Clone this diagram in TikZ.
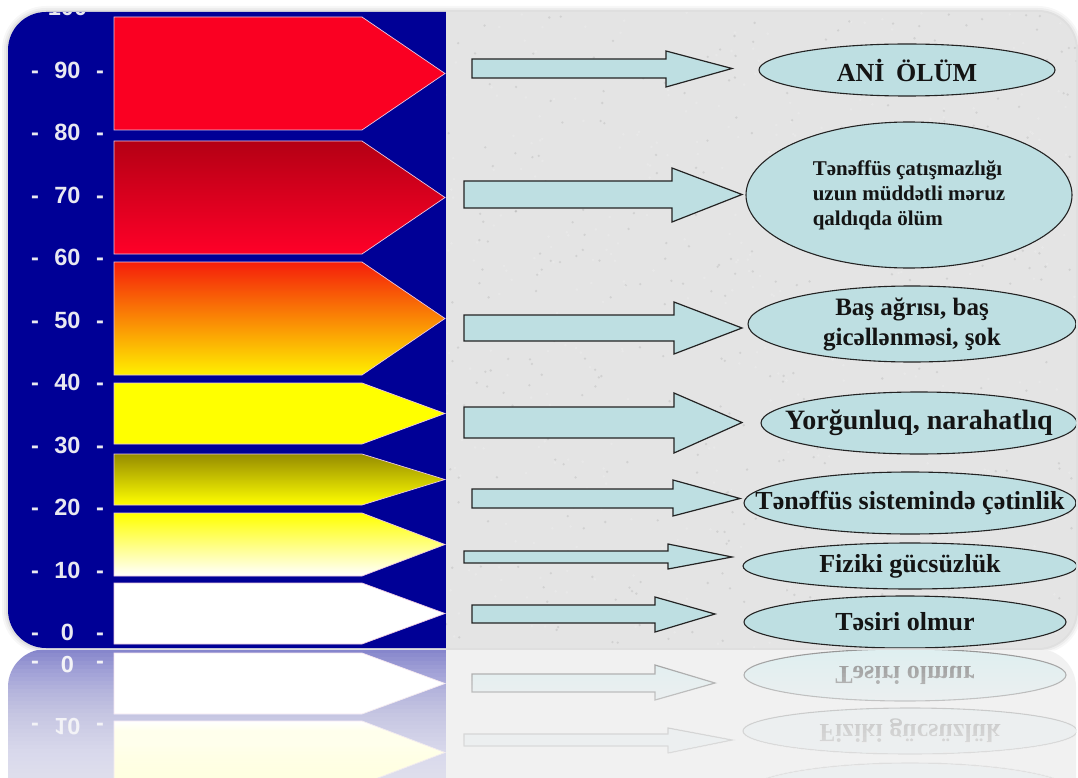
\documentclass[tikz,border=0pt]{standalone}
\usepackage{fontspec}
\setmainfont{Liberation Serif}
\newfontfamily\scalefamily{Liberation Sans}
\usetikzlibrary{shapes.geometric}
\definecolor{panelblue}{RGB}{0,0,150}
\definecolor{panelgray}{RGB}{228,228,228}
\definecolor{boxfill}{RGB}{190,223,226}
\definecolor{boxline}{RGB}{35,35,35}
\definecolor{labelwhite}{RGB}{232,232,240}
\definecolor{redA}{RGB}{250,0,34}
\definecolor{redTop}{RGB}{180,0,20}
\definecolor{redBot}{RGB}{255,0,40}
\definecolor{orTop}{RGB}{245,30,10}
\definecolor{orMid}{RGB}{252,150,15}
\definecolor{orBot}{RGB}{255,240,0}
\definecolor{yel}{RGB}{255,255,0}
\definecolor{olive}{RGB}{150,140,0}
\definecolor{chevline}{RGB}{235,200,225}
\definecolor{textdark}{RGB}{20,20,20}
\newcommand\scalelab[1]{\makebox[20pt]{-}\makebox[45pt]{#1}\makebox[20pt]{-}}
\tikzset{
  chev/.style={draw=chevline, line width=0.7pt},
  barrow/.style={fill=boxfill, draw=boxline, line width=1.2pt, line join=miter},
  ell/.style={ellipse, fill=boxfill, draw=boxline, line width=1.1pt, inner sep=0pt},
  etext/.style={text=textdark, font=\bfseries\fontsize{26}{28}\selectfont, inner sep=0pt},
  scl/.style={text=labelwhite, font=\scalefamily\bfseries\fontsize{23.5}{24}\selectfont, inner sep=0pt},
}
\begin{document}
\begin{tikzpicture}[x=1pt,y=-1pt]
\useasboundingbox (0,0) rectangle (1078,778);
\fill[white] (0,0) rectangle (1078,778);
% soft shadow round the frame
\foreach \w/\o in {12/0.03,8/0.04,4/0.06}
  \draw[line width=\w pt, black, opacity=\o, rounded corners=38pt] (8,12) rectangle (1076,648);
% ---------------- main frame ----------------
\begin{scope}
\clip[rounded corners=38pt] (8,12) rectangle (1076,648);
\fill[panelgray] (446,0) rectangle (1078,660);
\pgfmathsetseed{7}
\foreach \k in {1,...,900}{
  \pgfmathsetmacro\px{446+632*rnd}
  \pgfmathsetmacro\py{12+636*rnd}
  \pgfmathsetmacro\pc{rnd>0.5 ? 100 : 0}
  \fill[white!\pc!gray, opacity=0.18] (\px,\py) circle (1.3pt);
}
\fill[panelblue] (0,0) rectangle (446,660);
% chevrons
\path[chev, fill=redA] (114,17) -- (362,17) -- (445,73.5) -- (362,130) -- (114,130) -- cycle;
\path[chev, top color=redTop, bottom color=redBot] (114,141) -- (362,141) -- (445,197.5) -- (362,254) -- (114,254) -- cycle;
\path[chev, top color=orTop, middle color=orMid, bottom color=orBot] (114,262) -- (362,262) -- (445,318.5) -- (362,375) -- (114,375) -- cycle;
\path[chev, fill=yel] (114,383) -- (362,383) -- (445,413.5) -- (362,444) -- (114,444) -- cycle;
\path[chev, top color=olive, middle color=yel, bottom color=yel] (114,454) -- (362,454) -- (445,479.5) -- (362,505) -- (114,505) -- cycle;
\path[chev, top color=yel, bottom color=white] (114,513) -- (362,513) -- (445,544.5) -- (362,576) -- (114,576) -- cycle;
\path[chev, fill=white] (114,583) -- (362,583) -- (445,613.5) -- (362,644) -- (114,644) -- cycle;
% scale labels
\foreach \v/\yy in {100/7.5,90/70,80/132.5,70/195,60/257.5,50/320,40/382.5,30/445,20/507.5,10/570,0/632.5}
  \node[scl] (s\v) at (67.5,\yy) {\scalelab{\v}};
% block arrows
\path[barrow] (472,59) -- (666,59) -- (666,51) -- (732,68.5) -- (666,87) -- (666,78) -- (472,78) -- cycle;
\path[barrow] (464,181) -- (672,181) -- (672,168) -- (742,194.5) -- (672,222) -- (672,208) -- (464,208) -- cycle;
\path[barrow] (464,315) -- (674,315) -- (674,302) -- (742,328) -- (674,354) -- (674,341) -- (464,341) -- cycle;
\path[barrow] (464,407) -- (674,407) -- (674,393) -- (742,422.5) -- (674,453) -- (674,438) -- (464,438) -- cycle;
\path[barrow] (472,489) -- (673,489) -- (673,480) -- (740,498.5) -- (673,516) -- (673,508) -- (472,508) -- cycle;
\path[barrow] (464,551) -- (668,551) -- (668,544) -- (732,557) -- (668,569) -- (668,563) -- (464,563) -- cycle;
\path[barrow] (472,605) -- (655,605) -- (655,597) -- (715,614) -- (655,632) -- (655,623) -- (472,623) -- cycle;
% ellipses
\node[ell, minimum width=296pt, minimum height=52pt] (e1) at (907,70) {};
\node[etext] (t1) at (e1) {ANİ\hspace{0.45em}ÖLÜM};
\node[ell, minimum width=326pt, minimum height=146pt] (e2) at (909,195) {};
\node[etext, align=left, font=\bfseries\fontsize{21}{25}\selectfont] (t2) at (e2) {Tənəffüs çatışmazlığı\\uzun müddətli məruz\\qaldıqda ölüm};
\node[ell, minimum width=328pt, minimum height=76pt] (e3) at (912,324) {};
\node[etext, align=center, font=\bfseries\fontsize{25}{30}\selectfont] (t3) at (e3) {Baş ağrısı, baş\\gicəllənməsi, şok};
\node[ell, minimum width=316pt, minimum height=62pt] (e4) at (919,423) {};
\node[etext, font=\bfseries\fontsize{28}{30}\selectfont] (t4) at (e4) {Yorğunluq, narahatlıq};
\node[ell, minimum width=332pt, minimum height=62pt] (e5) at (910,503) {};
\node[etext] (t5) at (e5) {Tənəffüs sistemində çətinlik};
\node[ell, minimum width=334pt, minimum height=46pt] (e6) at (910,566) {};
\node[etext] (t6) at (e6) {Fiziki gücsüzlük};
\node[ell, minimum width=322pt, minimum height=52pt] (e7) at (905,622) {};
\node[etext] (t7) at (e7) {Təsiri olmur};
\end{scope}
% ---------------- reflection ----------------
\begin{scope}
\clip (0,650) rectangle (1078,778);
\begin{scope}[yshift=-1297pt, yscale=-1, transform shape]
\clip[rounded corners=38pt] (8,12) rectangle (1076,648);
\fill[panelgray] (446,450) rectangle (1078,660);
\fill[panelblue] (0,450) rectangle (446,660);
\path[chev, top color=yel, bottom color=yel] (114,454) -- (362,454) -- (445,479.5) -- (362,505) -- (114,505) -- cycle;
\path[chev, top color=white, bottom color=yel] (114,513) -- (362,513) -- (445,544.5) -- (362,576) -- (114,576) -- cycle;
\path[chev, fill=white] (114,583) -- (362,583) -- (445,613.5) -- (362,644) -- (114,644) -- cycle;
\foreach \v/\yy in {10/570,0/632.5}
  \node[scl] (rs\v) at (67.5,\yy) {\scalelab{\v}};
\path[barrow] (472,489) -- (673,489) -- (673,480) -- (740,498.5) -- (673,516) -- (673,508) -- (472,508) -- cycle;
\path[barrow] (464,551) -- (668,551) -- (668,544) -- (732,557) -- (668,569) -- (668,563) -- (464,563) -- cycle;
\path[barrow] (472,605) -- (655,605) -- (655,597) -- (715,614) -- (655,632) -- (655,623) -- (472,623) -- cycle;
\node[ell, minimum width=332pt, minimum height=62pt] (r5) at (910,503) {};
\node[ell, minimum width=334pt, minimum height=46pt] (r6) at (910,566) {};
\node[etext] (rt6) at (r6) {Fiziki gücsüzlük};
\node[ell, minimum width=322pt, minimum height=52pt] (r7) at (905,622) {};
\node[etext] (rt7) at (r7) {Təsiri olmur};
\end{scope}
\fill[white, fill opacity=0.5] (0,649) rectangle (1078,778);
\foreach \i in {0,...,31}
  \fill[white, fill opacity=0.0506] (0,{649+4*\i}) rectangle (1078,778);
\end{scope}
\end{tikzpicture}
\end{document}
